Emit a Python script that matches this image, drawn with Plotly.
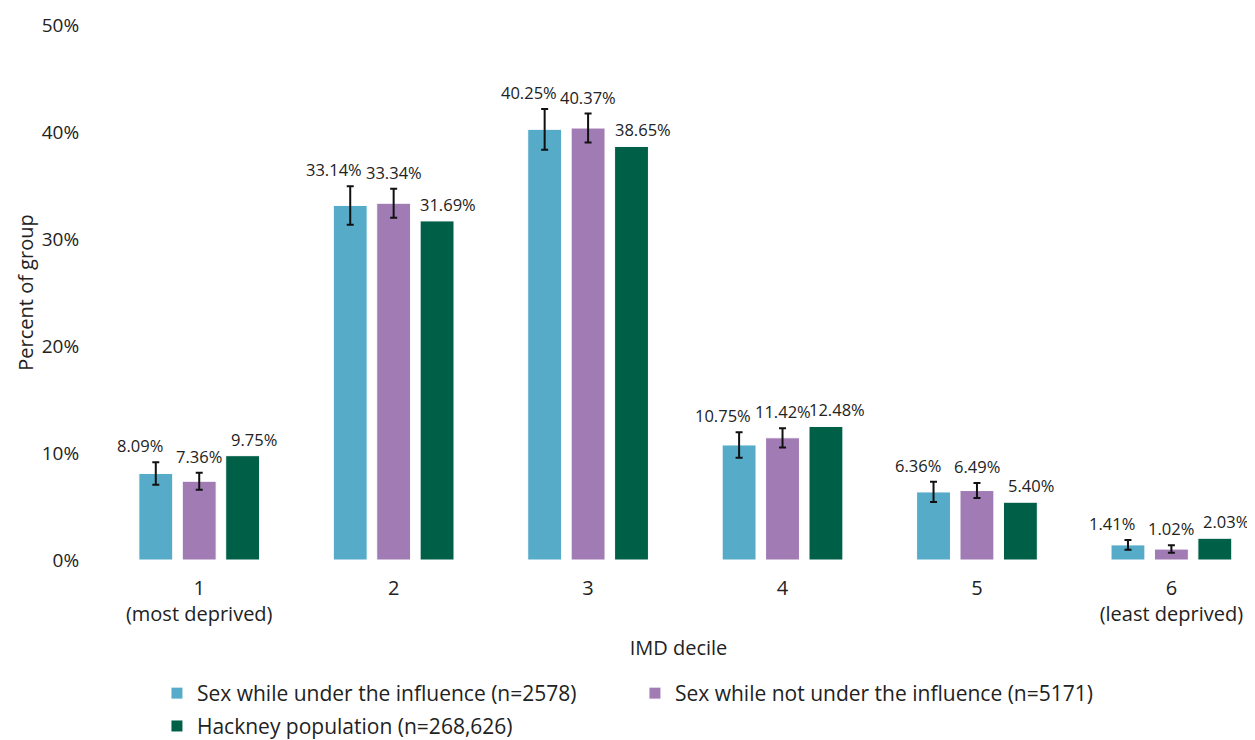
import plotly.graph_objects as go

# IMD decile breakdown
deciles = ["1<br>(most deprived)", "2", "3", "4", "5", "6<br>(least deprived)"]

under_influence = [8.09, 33.14, 40.25, 10.75, 6.36, 1.41]
under_influence_err = [1.05, 1.8, 1.9, 1.2, 0.95, 0.45]

not_under_influence = [7.36, 33.34, 40.37, 11.42, 6.49, 1.02]
not_under_influence_err = [0.8, 1.35, 1.35, 0.9, 0.7, 0.35]

hackney = [9.75, 31.69, 38.65, 12.48, 5.40, 2.03]

names = ["Sex while under the influence (n=2578)",
         "Sex while not under the influence (n=5171)",
         "Hackney population (n=268,626)"]
colors = ["#56ABC8", "#A07BB4", "#005F47"]
legends = ["legend", "legend", "legend2"]

FONT = "Open Sans"
W, H = 1255, 740
# the html body adds an 8px margin, so the figure is pulled up/left by that much
ML, MR, MT, MB = 94, 8, 17, 188
XRANGE = [-0.5, 5.43]
BARGAP = 0.33
LABEL_NUDGE = [-16, 0, 11]   # px, keeps neighbouring labels apart

fig = go.Figure()

series = [(under_influence, under_influence_err),
          (not_under_influence, not_under_influence_err),
          (hackney, None)]

for (vals, err), name, col, lg in zip(series, names, colors, legends):
    fig.add_trace(go.Bar(
        x=deciles, y=vals, name=name, legend=lg,
        marker=dict(color=col, line=dict(color="white", width=1)),
        error_y=dict(type="data", array=err, visible=err is not None,
                     color="#111111", thickness=2, width=3.5),
    ))

# labels sit above each bar (and above its error bar), shifted to the bar's slot
plot_w = W - ML - MR
cat_px = plot_w / (XRANGE[1] - XRANGE[0])
slot_px = cat_px * (1 - BARGAP) / 3
for i, (vals, err) in enumerate(series):
    for j, v in enumerate(vals):
        top = v + (err[j] if err is not None else 0)
        fig.add_annotation(
            x=j, y=top, text=f"{v:.2f}%", showarrow=False,
            xshift=(i - 1) * slot_px + LABEL_NUDGE[i], yshift=3, yanchor="bottom",
            font=dict(family=FONT, size=16.5, color="#222222"),
        )

leg_style = dict(orientation="h", xref="container", yref="container",
                 x=0.1187, xanchor="left", yanchor="top",
                 entrywidth=433, entrywidthmode="pixels",
                 font=dict(size=21), itemwidth=30)

fig.update_layout(
    width=W, height=H,
    margin=dict(l=ML, r=MR, t=MT, b=MB),
    barmode="group", bargap=BARGAP, bargroupgap=0.22,
    plot_bgcolor="white", paper_bgcolor="white",
    font=dict(family=FONT, size=18, color="#222222"),
    legend=dict(leg_style, y=0.1014),
    legend2=dict(leg_style, y=0.057),
    showlegend=True,
)
fig.update_xaxes(range=XRANGE, showline=False, showgrid=False, automargin=False,
                 ticks="outside", ticklen=10, tickcolor="rgba(0,0,0,0)",
                 title=dict(text="IMD decile", font=dict(size=20), standoff=14),
                 tickfont=dict(size=20))
fig.update_yaxes(range=[0, 50], dtick=10, ticksuffix="%", showline=False,
                 showgrid=False, zeroline=False, automargin=False,
                 ticks="outside", ticklen=18, tickcolor="rgba(0,0,0,0)",
                 title=dict(text="Percent of group", font=dict(size=20), standoff=2),
                 tickfont=dict(size=19))

fig.write_html("out.html")
